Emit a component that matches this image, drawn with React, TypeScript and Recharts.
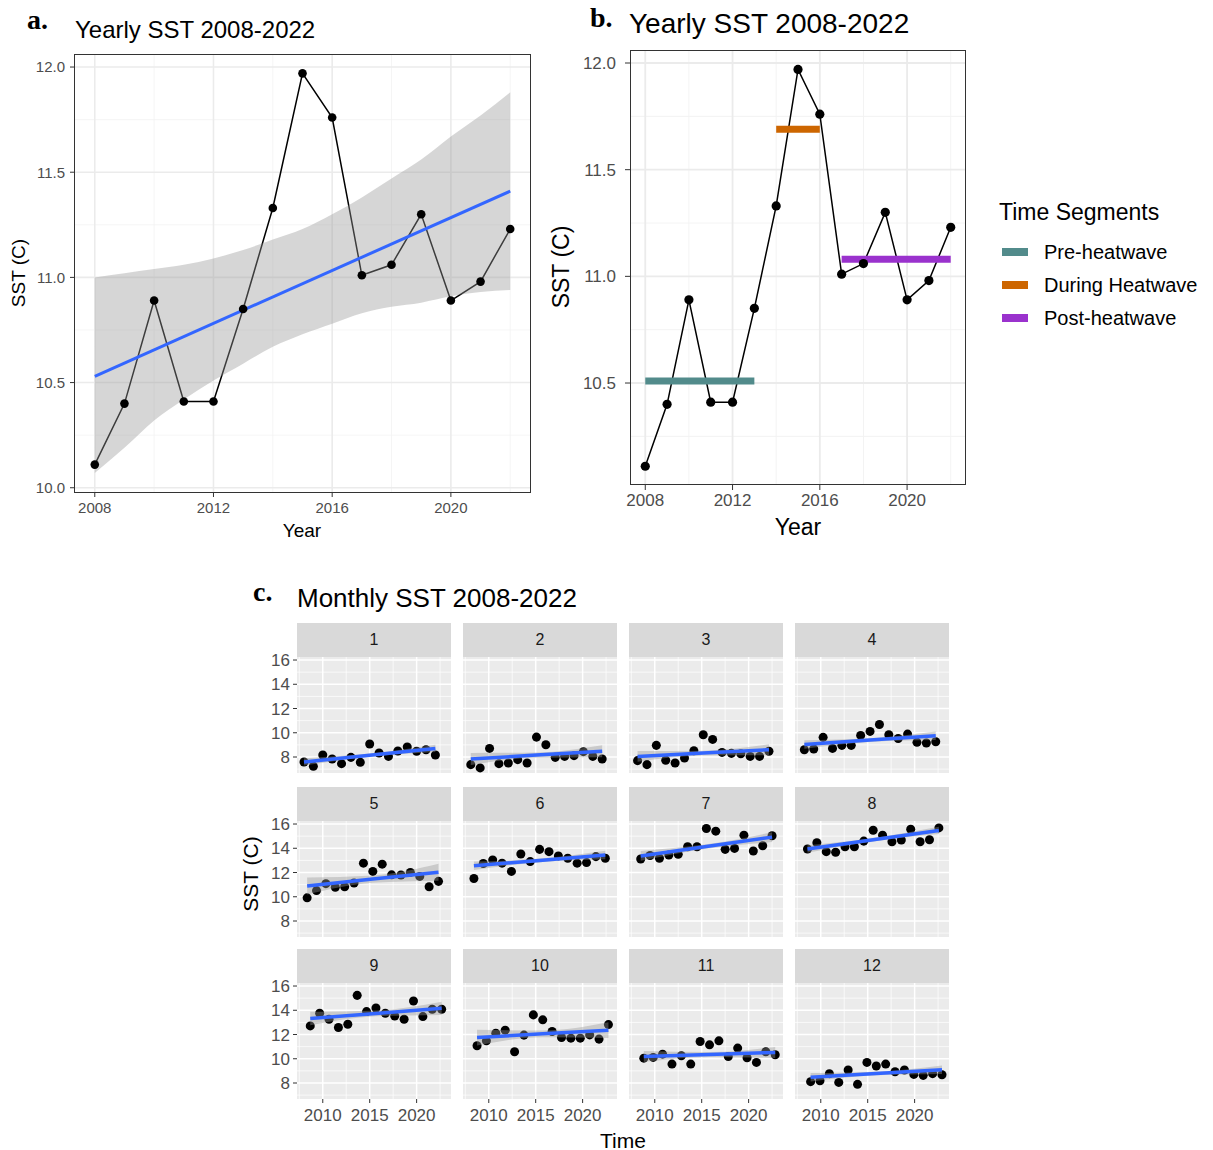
import React from "react";
import { Area, CartesianGrid, ComposedChart, Line, Scatter, XAxis, YAxis } from "recharts";

const FONT = "'Liberation Sans', Arial, Helvetica, sans-serif";
const SERIF = "'Liberation Serif', 'Times New Roman', serif";

// yearly mean SST
const years = [2008, 2009, 2010, 2011, 2012, 2013, 2014, 2015, 2016, 2017, 2018, 2019, 2020, 2021, 2022];
const yearlySst = [10.11, 10.4, 10.89, 10.41, 10.41, 10.85, 11.33, 11.97, 11.76, 11.01, 11.06, 11.3, 10.89, 10.98, 11.23];

// lm fit and its 95% band
const fitYears = [2008, 2022];
const fitSst = [10.53, 11.41];
const bandLow = [10.07, 10.19, 10.32, 10.42, 10.51, 10.59, 10.67, 10.73, 10.78, 10.83, 10.86, 10.88, 10.91, 10.93, 10.94];
const bandHigh = [11.0, 11.02, 11.04, 11.06, 11.09, 11.13, 11.18, 11.23, 11.3, 11.38, 11.47, 11.56, 11.67, 11.77, 11.88];

// heatwave segments (panel b)
const segNames = ["Pre-heatwave", "During Heatwave", "Post-heatwave"];
const segFrom = [2008, 2014, 2017];
const segTo = [2013, 2016, 2022];
const segMean = [10.51, 11.69, 11.08];
const segColors = ["#528B8B", "#CD6600", "#9A32CD"];

// monthly SST, one value per year 2008-2022
const jan = [7.59, 7.23, 8.16, 7.84, 7.45, 7.97, 7.56, 9.07, 8.33, 8.05, 8.49, 8.82, 8.47, 8.6, 8.16];
const feb = [7.37, 7.1, 8.71, 7.45, 7.51, 7.78, 7.51, 9.64, 9.01, 7.97, 8.05, 8.11, 8.44, 8.05, 7.84];
const mar = [7.7, 7.37, 8.96, 7.73, 7.51, 7.92, 8.52, 9.84, 9.45, 8.38, 8.3, 8.27, 8.05, 8.05, 8.47];
const apr = [8.6, 8.66, 9.62, 8.71, 8.96, 8.96, 9.78, 10.11, 10.68, 9.84, 9.53, 9.89, 9.21, 9.15, 9.26];
const may = [9.91, 10.51, 11.08, 10.78, 10.83, 11.13, 12.77, 12.09, 12.69, 11.81, 11.79, 12.01, 11.68, 10.83, 11.27];
const jun = [11.51, 12.74, 13.04, 12.77, 12.09, 13.53, 12.9, 13.91, 13.72, 13.37, 13.18, 12.77, 12.82, 13.31, 13.18];
const jul = [13.12, 13.4, 13.18, 13.45, 13.5, 14.13, 14.13, 15.63, 15.41, 13.91, 13.99, 15.08, 13.78, 14.21, 15.03];
const aug = [13.94, 14.46, 13.72, 13.67, 14.13, 14.13, 14.59, 15.49, 15.08, 14.54, 14.68, 15.57, 14.54, 14.7, 15.68];
const sep = [12.71, 13.75, 13.26, 12.58, 12.85, 15.23, 13.89, 14.19, 13.75, 13.53, 13.26, 14.77, 13.48, 14.08, 14.08];
const oct = [11.07, 11.48, 12.11, 12.36, 10.58, 11.95, 13.62, 13.21, 12.25, 11.75, 11.7, 11.7, 11.97, 11.62, 12.82];
const nov = [10.05, 10.11, 10.38, 9.56, 10.25, 9.56, 11.42, 11.15, 11.48, 10.19, 10.88, 10.08, 9.7, 10.58, 10.33];
const dec = [8.11, 8.19, 8.77, 8.05, 9.07, 7.89, 9.7, 9.4, 9.56, 8.93, 9.07, 8.71, 8.63, 8.77, 8.68];
const monthly = [jan, feb, mar, apr, may, jun, jul, aug, sep, oct, nov, dec];

// per-month lm fit at first/last year, and band half-width at the ends / middle
const trendStart = [7.59, 7.84, 8.05, 9.04, 10.89, 12.55, 13.37, 13.94, 13.32, 11.75, 10.19, 8.47];
const trendEnd = [8.71, 8.47, 8.6, 9.75, 12.03, 13.45, 14.92, 15.47, 14.16, 12.36, 10.52, 9.1];
const bandEdge = [0.3, 0.5, 0.45, 0.35, 0.7, 0.35, 0.4, 0.3, 0.55, 0.65, 0.45, 0.35];
const bandMid = [0.13, 0.22, 0.2, 0.15, 0.3, 0.15, 0.18, 0.14, 0.24, 0.28, 0.2, 0.15];

// axis ticks
const yearTicks = [2008, 2012, 2016, 2020];
const yearMinor = [2010, 2014, 2018, 2022];
const sstTicksA = [10, 10.5, 11, 11.5, 12];
const sstTicksB = [10.5, 11, 11.5, 12];
const sstMinor = [10.25, 10.75, 11.25, 11.75];
const timeTicks = [2010, 2015, 2020];
const timeMinor = [2007.5, 2012.5, 2017.5, 2022.5];
const monthTicksY = [8, 10, 12, 14, 16];
const monthMinorY = [7, 9, 11, 13, 15];

const NONE = { stroke: "none" };

function Txt({ x, y, size, children, anchor = "start", color = "#000", rotate = 0, family = FONT, weight = 400 }: any) {
  const tx = anchor === "middle" ? "-50%" : anchor === "end" ? "-100%" : "0";
  return (
    <div
      style={{
        position: "absolute",
        left: x,
        top: y,
        fontSize: size,
        fontFamily: family,
        fontWeight: weight,
        color,
        lineHeight: 1,
        whiteSpace: "nowrap",
        transform: `translate(${tx}, -50%) rotate(${rotate}deg)`,
      }}
    >
      {children}
    </div>
  );
}

function Border({ left, top, width, height }: any) {
  return (
    <div
      style={{
        position: "absolute",
        left,
        top,
        width,
        height,
        boxSizing: "border-box",
        border: "1px solid #333333",
        pointerEvents: "none",
      }}
    />
  );
}

function PanelA() {
  const data = years.map((year, i) => {
    const f = fitYears.indexOf(year);
    return { year, sst: yearlySst[i], fit: f >= 0 ? fitSst[f] : null, band: [bandLow[i], bandHigh[i]] };
  });
  const tick = { fontSize: 15, fill: "#4D4D4D", fontFamily: FONT };
  return (
    <div style={{ position: "absolute", left: 0, top: 0 }}>
      <ComposedChart width={545} height={545} data={data} margin={{ top: 54, right: 14, bottom: 0, left: 0 }}>
        <CartesianGrid stroke="#F2F2F2" strokeWidth={0.8} horizontalValues={sstMinor} verticalValues={yearMinor} />
        <CartesianGrid stroke="#EBEBEB" strokeWidth={1.6} horizontalValues={sstTicksA} verticalValues={yearTicks} />
        <XAxis
          type="number"
          dataKey="year"
          domain={[2007.3, 2022.7]}
          allowDataOverflow
          ticks={yearTicks}
          interval={0}
          height={52}
          tick={tick}
          tickSize={4}
          tickMargin={5}
          tickLine={{ stroke: "#333" }}
          axisLine={false}
        />
        <YAxis
          type="number"
          domain={[9.975, 12.062]}
          allowDataOverflow
          ticks={sstTicksA}
          interval={0}
          width={74}
          tick={tick}
          tickSize={4}
          tickMargin={5}
          tickLine={{ stroke: "#333" }}
          axisLine={false}
          tickFormatter={(v: number) => v.toFixed(1)}
        />
        <Line dataKey="sst" stroke="#000" strokeWidth={1.5} dot={{ r: 4.3, fill: "#000", ...NONE }} isAnimationActive={false} zIndex={100} />
        <Area dataKey="band" type="monotone" fill="#999999" fillOpacity={0.4} stroke="none" isAnimationActive={false} zIndex={200} />
        <Line dataKey="fit" stroke="#3366FF" strokeWidth={3} dot={false} connectNulls isAnimationActive={false} zIndex={300} />
      </ComposedChart>
    </div>
  );
}

function PanelB() {
  const data = years.map((year, i) => ({ year, sst: yearlySst[i] }));
  const tick = { fontSize: 17, fill: "#4D4D4D", fontFamily: FONT };
  return (
    <div style={{ position: "absolute", left: 540, top: 0 }}>
      <ComposedChart width={440} height={545} data={data} margin={{ top: 50, right: 14, bottom: 0, left: 0 }}>
        <CartesianGrid stroke="#F2F2F2" strokeWidth={0.9} horizontalValues={sstMinor} verticalValues={yearMinor} />
        <CartesianGrid stroke="#EBEBEB" strokeWidth={1.8} horizontalValues={sstTicksB} verticalValues={yearTicks} />
        <XAxis
          type="number"
          dataKey="year"
          domain={[2007.3, 2022.7]}
          allowDataOverflow
          ticks={yearTicks}
          interval={0}
          height={60}
          tick={tick}
          tickSize={5}
          tickMargin={4}
          tickLine={{ stroke: "#333" }}
          axisLine={false}
        />
        <YAxis
          type="number"
          domain={[10.022, 12.061]}
          allowDataOverflow
          ticks={sstTicksB}
          interval={0}
          width={90}
          tick={tick}
          tickSize={5}
          tickMargin={9}
          tickLine={{ stroke: "#333" }}
          axisLine={false}
          tickFormatter={(v: number) => v.toFixed(1)}
        />
        <Line dataKey="sst" stroke="#000" strokeWidth={1.5} dot={{ r: 4.6, fill: "#000", ...NONE }} isAnimationActive={false} zIndex={100} />
        {segNames.map((name, i) => (
          <Line
            key={name}
            data={[
              { year: segFrom[i], seg: segMean[i] },
              { year: segTo[i], seg: segMean[i] },
            ]}
            dataKey="seg"
            stroke={segColors[i]}
            strokeWidth={7}
            dot={false}
            isAnimationActive={false}
            zIndex={200}
          />
        ))}
      </ComposedChart>
    </div>
  );
}

const colLeft = [297, 463, 629, 795];
const rowTop = [657, 821, 983];
const panelW = 154;
const panelH = 116;
const stripH = 34;

function Facet({ m }: { m: number }) {
  const row = Math.floor(m / 4);
  const col = m % 4;
  const yW = col === 0 ? 45 : 0;
  const xH = row === 2 ? 34 : 0;
  const off = m / 12;
  const pts = years.map((y, i) => ({ t: y + off, sst: monthly[m][i] }));
  const s = trendStart[m];
  const e = trendEnd[m];
  const mid = (s + e) / 2;
  const fitData = [
    { t: years[0] + off, fit: s, band: [s - bandEdge[m], s + bandEdge[m]] },
    { t: (years[0] + years[years.length - 1]) / 2 + off, fit: mid, band: [mid - bandMid[m], mid + bandMid[m]] },
    { t: years[years.length - 1] + off, fit: e, band: [e - bandEdge[m], e + bandEdge[m]] },
  ];
  const tick = { fontSize: 17, fill: "#4D4D4D", fontFamily: FONT };
  return (
    <>
      <div
        style={{
          position: "absolute",
          left: colLeft[col],
          top: rowTop[row] - stripH,
          width: panelW,
          height: stripH,
          background: "#D9D9D9",
          color: "#1A1A1A",
          fontFamily: FONT,
          fontSize: 16,
          display: "flex",
          alignItems: "center",
          justifyContent: "center",
        }}
      >
        {m + 1}
      </div>
      <div style={{ position: "absolute", left: colLeft[col] - yW, top: rowTop[row] - 10 }}>
        <ComposedChart width={panelW + yW} height={panelH + 10 + xH} data={fitData} margin={{ top: 10, right: 0, bottom: 0, left: 0 }}>
          <CartesianGrid fill="#EBEBEB" stroke="#FFFFFF" strokeWidth={0.7} horizontalValues={monthMinorY} verticalValues={timeMinor} />
          <CartesianGrid stroke="#FFFFFF" strokeWidth={1.5} horizontalValues={monthTicksY} verticalValues={timeTicks} />
          <XAxis
            type="number"
            dataKey="t"
            domain={[2007.254, 2023.663]}
            allowDataOverflow
            ticks={timeTicks}
            interval={0}
            hide={row !== 2}
            height={xH || 30}
            tick={tick}
            tickSize={4}
            tickMargin={6}
            tickLine={{ stroke: "#333" }}
            axisLine={false}
          />
          <YAxis
            type="number"
            domain={[6.68, 16.25]}
            allowDataOverflow
            ticks={monthTicksY}
            interval={0}
            hide={col !== 0}
            width={yW || 45}
            tick={tick}
            tickSize={4}
            tickMargin={3}
            tickLine={{ stroke: "#333" }}
            axisLine={false}
          />
          <Scatter data={pts} dataKey="sst" fill="#000" isAnimationActive={false} zIndex={100} />
          <Area dataKey="band" type="monotone" fill="#999999" fillOpacity={0.4} stroke="none" isAnimationActive={false} zIndex={200} />
          <Line dataKey="fit" stroke="#3366FF" strokeWidth={3.5} dot={false} isAnimationActive={false} zIndex={300} />
        </ComposedChart>
      </div>
    </>
  );
}

export default function App() {
  return (
    <div style={{ position: "absolute", left: 0, top: 0, width: 1213, height: 1150, background: "#fff", overflow: "hidden" }}>
      {/* panel a */}
      <PanelA />
      <Border left={74} top={54} width={457} height={439} />
      <Txt x={27} y={20} size={28} family={SERIF} weight={700}>a.</Txt>
      <Txt x={75} y={30} size={24}>Yearly SST 2008-2022</Txt>
      <Txt x={302} y={530} size={19} anchor="middle">Year</Txt>
      <Txt x={18} y={273} size={19} anchor="middle" rotate={-90}>SST (C)</Txt>

      {/* panel b */}
      <PanelB />
      <Border left={630} top={50} width={336} height={435} />
      <Txt x={590} y={18} size={28} family={SERIF} weight={700}>b.</Txt>
      <Txt x={629} y={24} size={28}>Yearly SST 2008-2022</Txt>
      <Txt x={798} y={527} size={23} anchor="middle">Year</Txt>
      <Txt x={561} y={267} size={23} anchor="middle" rotate={-90}>SST (C)</Txt>
      <Txt x={999} y={212} size={23}>Time Segments</Txt>
      {segNames.map((name, i) => (
        <React.Fragment key={name}>
          <div
            style={{
              position: "absolute",
              left: 1002,
              top: 252 + i * 33 - 4,
              width: 26,
              height: 8,
              background: segColors[i],
            }}
          />
          <Txt x={1044} y={252 + i * 33} size={20}>{name}</Txt>
        </React.Fragment>
      ))}

      {/* panel c */}
      <Txt x={253} y={592} size={28} family={SERIF} weight={700}>c.</Txt>
      <Txt x={297} y={598} size={26}>Monthly SST 2008-2022</Txt>
      {monthly.map((_, m) => (
        <Facet key={m} m={m} />
      ))}
      <Txt x={250} y={874} size={21} anchor="middle" rotate={-90}>SST (C)</Txt>
      <Txt x={623} y={1140} size={21} anchor="middle">Time</Txt>
    </div>
  );
}
